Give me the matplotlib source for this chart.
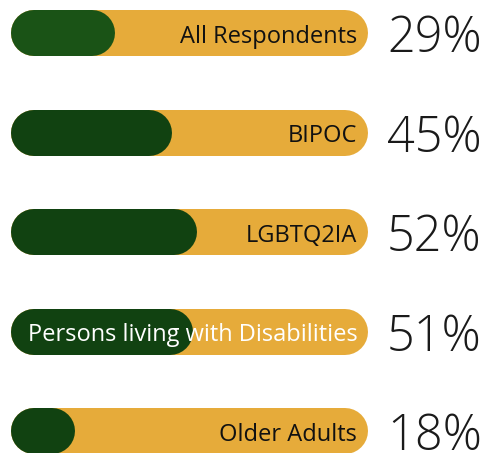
import matplotlib
matplotlib.use("Agg")
import matplotlib.pyplot as plt
from matplotlib import font_manager as fm

groups = ["All Respondents", "BIPOC", "LGBTQ2IA", "Persons living with Disabilities", "Older Adults"]
shares = [29, 45, 52, 51, 18]
fill_colors = ["#1a5316", "#114211", "#114211", "#114211", "#114211"]
label_colors = ["#111111", "#111111", "#111111", "#ffffff", "#111111"]

W, H, DPI = 481, 453, 100
track_color = "#e6ab3a"

# thin face for the big percentages, fall back to weight lookup
light_path = [f.fname for f in fm.fontManager.ttflist
              if f.fname.endswith("OpenSans-Light.ttf")]
if light_path:
    pct_font = fm.FontProperties(fname=light_path[0], size=35)
else:
    pct_font = fm.FontProperties(family="Open Sans", weight=300, size=35)
label_font = fm.FontProperties(family="Open Sans", size=17)

fig = plt.figure(figsize=(W / DPI, H / DPI), dpi=DPI)
left_px, right_px = 11, 368
ax = fig.add_axes([left_px / W, 0, (right_px - left_px) / W, 1])
ax.set_xlim(0, 100)
ax.set_ylim(4.221, -0.332)
ax.axis("off")

bar_px = 46
lw = bar_px * 72 / DPI
# round caps stick out half a bar height past the line ends
cap = (bar_px / 2) / (right_px - left_px) * 100

for i, (name, val) in enumerate(zip(groups, shares)):
    ax.plot([cap, 100 - cap], [i, i], color=track_color, lw=lw,
            solid_capstyle="round", zorder=1)
    ax.plot([cap, val - cap], [i, i], color=fill_colors[i], lw=lw,
            solid_capstyle="round", zorder=2)
    ax.annotate(name, (97, i), xytext=(0, -9.5 * 72 / DPI), textcoords="offset points",
                ha="right", va="baseline", fontproperties=label_font,
                color=label_colors[i], zorder=3)
    ax.annotate(f"{val}%", (105.3, i), xytext=(0, -19 * 72 / DPI), textcoords="offset points",
                ha="left", va="baseline", fontproperties=pct_font,
                color="#1a1a1a", annotation_clip=False, zorder=3)

fig.savefig("out.png", dpi=DPI)
